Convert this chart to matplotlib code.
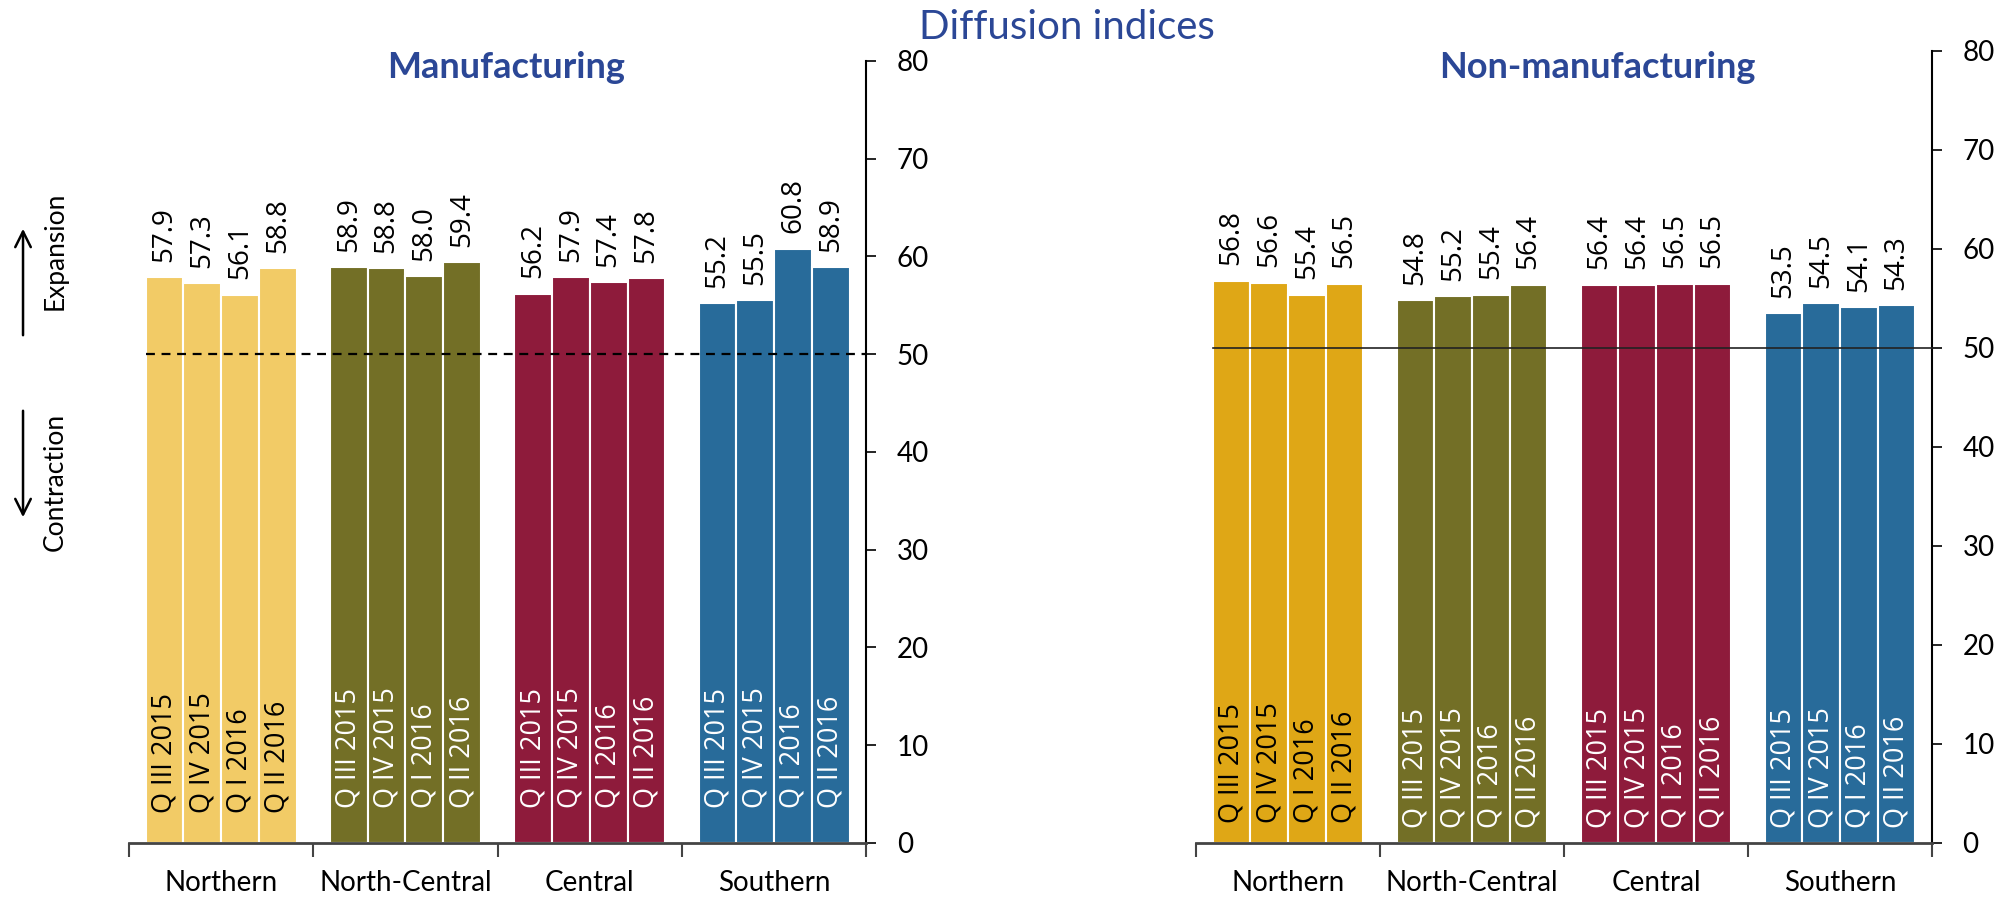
import matplotlib.pyplot as plt
from matplotlib.patches import FancyArrowPatch
from matplotlib.transforms import blended_transform_factory
import numpy as np

# Regional diffusion indices by quarter
regions = ["Northern", "North-Central", "Central", "Southern"]
quarters = ["Q III 2015", "Q IV 2015", "Q I 2016", "Q II 2016"]

manuf_northern = [57.9, 57.3, 56.1, 58.8]
manuf_north_central = [58.9, 58.8, 58.0, 59.4]
manuf_central = [56.2, 57.9, 57.4, 57.8]
manuf_southern = [55.2, 55.5, 60.8, 58.9]

nonmanuf_northern = [56.8, 56.6, 55.4, 56.5]
nonmanuf_north_central = [54.8, 55.2, 55.4, 56.4]
nonmanuf_central = [56.4, 56.4, 56.5, 56.5]
nonmanuf_southern = [53.5, 54.5, 54.1, 54.3]

threshold = 50

# Colours
title_blue = "#2B4796"
manuf_colors = ["#F2CB66", "#736F26", "#8E1B3B", "#286B9A"]
nonmanuf_colors = ["#DFA716", "#736F26", "#8E1B3B", "#286B9A"]
quarter_text = ["black", "white", "white", "white"]

label_font = "Lato"
value_font = "Open Sans"

fig = plt.figure(figsize=(20.02, 8.99), dpi=100)
ax1 = fig.add_axes([0.0644, 0.0623, 0.3683, 0.8699])
ax2 = fig.add_axes([0.5974, 0.0623, 0.3676, 0.8810])

bar_w = 0.205


def draw_panel(ax, series, colors, inner_y, line_style):
    for i, vals in enumerate(series):
        for j, v in enumerate(vals):
            x = i + (j - 1.5) * bar_w
            ax.bar(x, v, width=bar_w, color=colors[i], edgecolor="white", linewidth=1.5, zorder=2)
            ax.annotate(f"{v:.1f}", xy=(x, v), xytext=(0, 11), textcoords="offset points",
                        rotation=90, ha="center", va="bottom", fontsize=20,
                        family=value_font, color="black")
            ax.text(x, inner_y[0] if i == 0 else inner_y[1], quarters[j], rotation=90,
                    ha="center", va="bottom", fontsize=19.5, family=value_font,
                    color=quarter_text[i], zorder=3)

    # 50 = no change line
    x0 = 0 - 1.5 * bar_w - bar_w / 2
    ax.plot([x0, 3.5], [threshold, threshold], zorder=4, clip_on=False, **line_style)

    ax.set_xlim(-0.5, 3.5)
    ax.set_ylim(0, 80)

    # y-axis on the right
    ax.spines["left"].set_visible(False)
    ax.spines["top"].set_visible(False)
    ax.spines["right"].set_linewidth(1.5)
    ax.spines["bottom"].set_linewidth(2)
    ax.spines["bottom"].set_color("#444444")
    ax.yaxis.tick_right()
    ax.set_yticks(np.arange(0, 81, 10))
    ax.tick_params(axis="y", direction="out", length=7, width=1.2, pad=15, labelsize=20)
    for lab in ax.get_yticklabels():
        lab.set_family(label_font)

    # group separators as ticks under the axis
    ax.set_xticks(np.arange(-0.5, 3.6, 1.0))
    ax.set_xticklabels([])
    ax.tick_params(axis="x", direction="out", length=10, width=1.5, color="#444444")

    # region names close to the bottom edge
    trans = blended_transform_factory(ax.transData, fig.transFigure)
    for i, name in enumerate(regions):
        ax.text(i, 8 / 899, name, transform=trans, ha="center", va="baseline",
                fontsize=20, family=label_font)


draw_panel(ax1, [manuf_northern, manuf_north_central, manuf_central, manuf_southern],
           manuf_colors, (3.1, 3.6), dict(color="black", lw=1.6, ls=(0, (4, 3))))
draw_panel(ax2, [nonmanuf_northern, nonmanuf_north_central, nonmanuf_central, nonmanuf_southern],
           nonmanuf_colors, (2.0, 1.5), dict(color="#222222", lw=1.2, ls="-"))

# Titles
fig.text(0.533, 0.969, "Diffusion indices", ha="center", va="center",
         fontsize=29, family=label_font, color=title_blue)
fig.text(0.2528, 0.925, "Manufacturing", ha="center", va="center",
         fontsize=26, family=label_font, weight="bold", color=title_blue)
fig.text(0.7977, 0.925, "Non-manufacturing", ha="center", va="center",
         fontsize=26, family=label_font, weight="bold", color=title_blue)

# Expansion / contraction guide on the left
fig.text(0.0275, 0.7208, "Expansion", rotation=90, ha="center", va="center",
         fontsize=19, family=label_font)
fig.text(0.0275, 0.4638, "Contraction", rotation=90, ha="center", va="center",
         fontsize=19, family=label_font)
arrow = dict(arrowstyle="->", lw=1.8, mutation_scale=28, color="black")
fig.add_artist(FancyArrowPatch((0.0115, 1 - 338 / 899), (0.0115, 1 - 226 / 899),
                               transform=fig.transFigure, **arrow))
fig.add_artist(FancyArrowPatch((0.0115, 1 - 408 / 899), (0.0115, 1 - 520 / 899),
                               transform=fig.transFigure, **arrow))

plt.savefig("out.png", dpi=100)
